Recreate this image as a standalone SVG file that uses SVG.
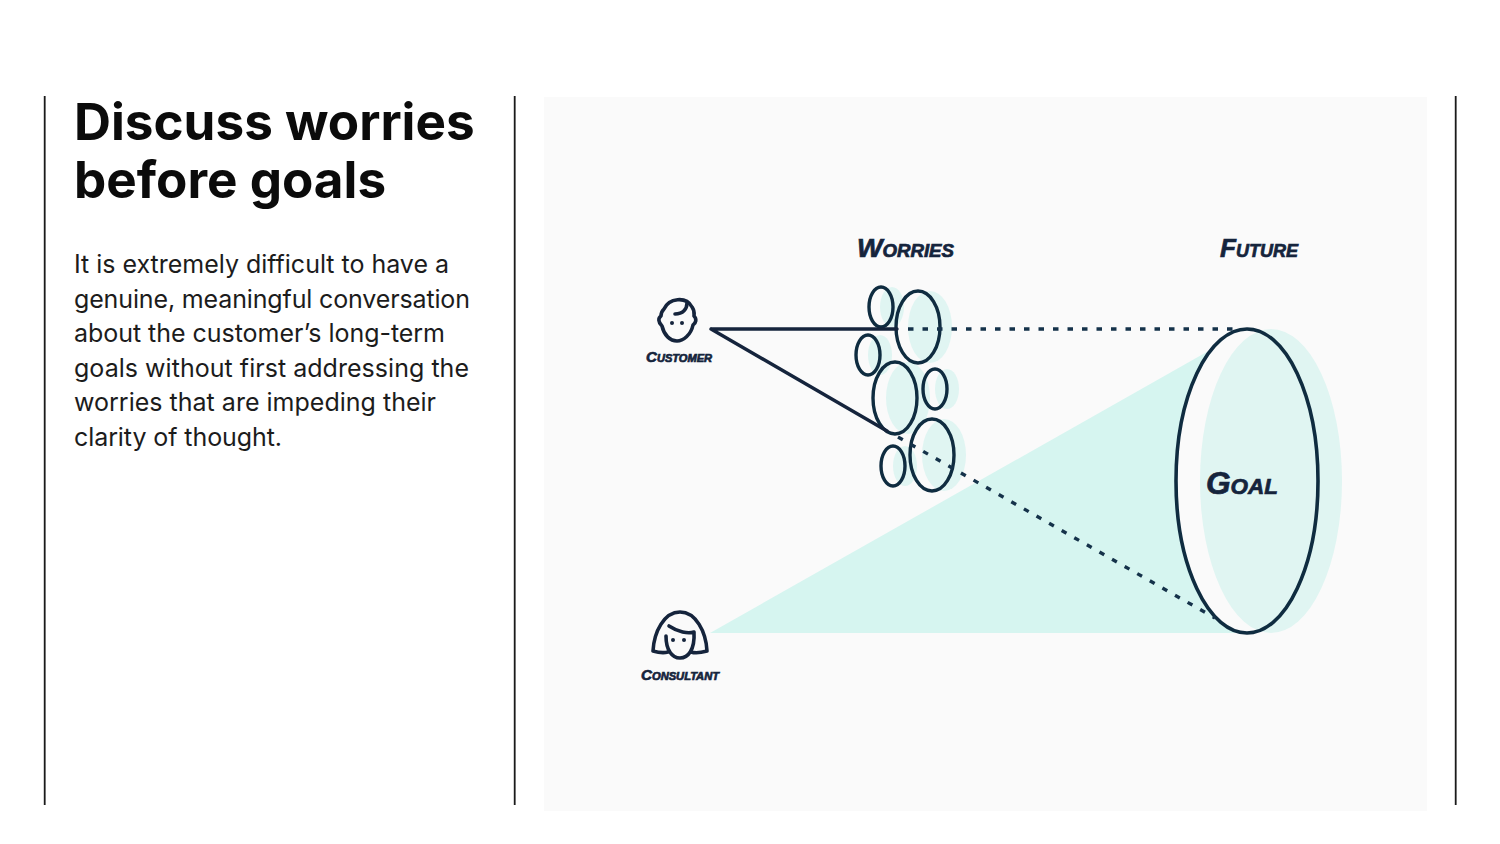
<svg xmlns="http://www.w3.org/2000/svg" width="1500" height="844" viewBox="0 0 1500 844">
<style>
.rule{stroke:#1a1a1a;stroke-width:1.8;fill:none}
.title{font-family:Inter,"Liberation Sans",sans-serif;font-weight:700;font-size:51.2px;fill:#0b0b0b}
.body{font-family:Inter,"Liberation Sans",sans-serif;font-size:25px;fill:#1c1c1c}
.hand{font-family:"Liberation Sans",sans-serif;font-weight:700;font-style:italic;font-variant:small-caps;fill:#15243c;stroke:#15243c;stroke-width:.7}
.o{fill:none;stroke:#0f2c40;stroke-width:3.4}
.s{fill:#e0f5f2}
.ink{fill:none;stroke:#15243c;stroke-width:3.6;stroke-linecap:round;stroke-linejoin:round}
.eye{fill:#15243c}
.solid{stroke:#15243c;stroke-width:3.4;fill:none;stroke-linecap:round}
.dot{stroke:#15324a;stroke-width:3.4;fill:none;stroke-dasharray:5.5 9}
</style>
<rect width="1500" height="844" fill="#fff"/>
<path class="rule" d="M44.7 96V805M514.7 96V805M1455.7 96V805"/>
<text class="title"><tspan x="74" y="140">Discuss worries</tspan><tspan x="74" y="198">before goals</tspan></text>
<text class="body" x="74" y="273" textLength="375">It is extremely difficult to have a</text>
<text class="body" x="74" y="308" textLength="396">genuine, meaningful conversation</text>
<text class="body" x="74" y="342" textLength="371">about the customer’s long-term</text>
<text class="body" x="74" y="377" textLength="395">goals without first addressing the</text>
<text class="body" x="74" y="411" textLength="362">worries that are impeding their</text>
<text class="body" x="74" y="446" textLength="208">clarity of thought.</text>
<rect x="544" y="97" width="883" height="714" fill="#fafafa"/>
<g id="cone"><path d="M710 633L1212 349L1247 633Z" fill="#d6f5f0"/></g>
<g id="shadows">
<ellipse class="s" cx="892" cy="307" rx="12" ry="20"/>
<ellipse class="s" cx="930" cy="327" rx="22" ry="36"/>
<ellipse class="s" cx="880" cy="355" rx="12" ry="20"/>
<ellipse class="s" cx="908" cy="398" rx="22" ry="36"/>
<ellipse class="s" cx="947" cy="389" rx="12" ry="20"/>
<ellipse class="s" cx="944" cy="455" rx="22" ry="36"/>
<ellipse class="s" cx="905" cy="466" rx="12" ry="20"/>
</g>
<g id="goal">
<ellipse cx="1247" cy="481" rx="71" ry="152" fill="#fafafa"/>
<ellipse class="s" cx="1271" cy="481" rx="71" ry="152"/>
<ellipse class="o" cx="1247" cy="481" rx="71" ry="152" style="stroke-width:3.6"/>
<text class="hand" x="1206" y="494" font-size="31" textLength="72" lengthAdjust="spacingAndGlyphs">Goal</text>
</g>
<g id="worry-1"><ellipse class="o" cx="881" cy="307" rx="12" ry="20"/></g>
<g id="worry-2"><ellipse class="o" cx="918" cy="327" rx="22" ry="36"/></g>
<g id="worry-3"><ellipse class="o" cx="868" cy="355" rx="12" ry="20"/></g>
<g id="worry-4"><ellipse class="o" cx="895" cy="398" rx="22" ry="36"/></g>
<g id="worry-5"><ellipse class="o" cx="935" cy="389" rx="12" ry="20"/></g>
<g id="worry-6"><ellipse class="o" cx="932" cy="455" rx="22" ry="36"/></g>
<g id="worry-7"><ellipse class="o" cx="893" cy="466" rx="12" ry="20"/></g>
<g id="connectors">
<path class="solid" d="M711 329H897M711 329L887 431"/>
<path class="dot" d="M908 329H1240"/>
<path class="dot" d="M898 437L1215 618"/>
</g>
<g id="customer">
<path class="ink" d="M664 309C669 298 686 296 692 307C695 311 694 314 694 316C697 319 696 323 693 325C691 335 683 341 677 341C670 341 664 335 662 326C658 322 658 318 661 316C661 313 662 311 664 309Z"/>
<path class="ink" d="M675 314C683 314 687 309 687 303"/>
<circle class="eye" cx="672" cy="323" r="2"/><circle class="eye" cx="682" cy="323" r="2"/>
<text class="hand" x="646" y="362" font-size="15" textLength="66" lengthAdjust="spacingAndGlyphs">Customer</text>
</g>
<g id="consultant">
<path class="ink" d="M653 651C654 632 664 612 680 612C696 612 706 632 707 651C700 653 694 653 691 652M653 651C660 653 664 653 668 652"/>
<path class="ink" d="M669 626C678 632 688 634 694 632C695 650 688 658 680 658C672 658 666 650 666 636"/>
<circle class="eye" cx="673" cy="640" r="2"/><circle class="eye" cx="684" cy="640" r="2"/>
<text class="hand" x="641" y="680" font-size="15" textLength="78" lengthAdjust="spacingAndGlyphs">Consultant</text>
</g>
<text class="hand" x="857" y="257" font-size="26" textLength="97" lengthAdjust="spacingAndGlyphs">Worries</text>
<text class="hand" x="1220" y="257" font-size="26" textLength="78" lengthAdjust="spacingAndGlyphs">Future</text>
</svg>
